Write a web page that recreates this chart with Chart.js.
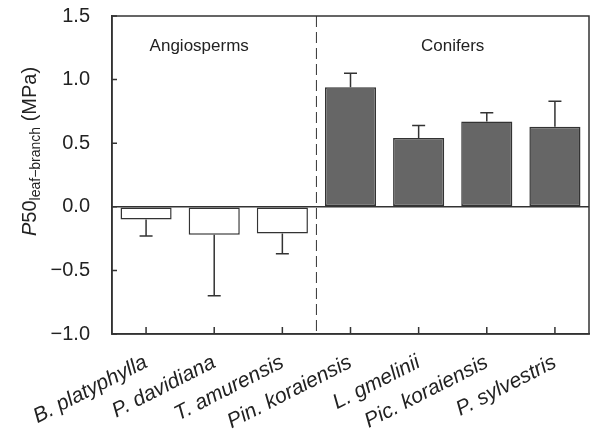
<!DOCTYPE html>
<html>
<head>
<meta charset="utf-8">
<script src="https://cdn.jsdelivr.net/npm/chart.js@4/dist/chart.umd.min.js"></script>
<style>
  html, body { margin: 0; padding: 0; background: #fff; }
  #wrap { width: 591px; height: 435px; }
</style>
</head>
<body>
<div id="wrap"><canvas id="chart" width="591" height="435"></canvas></div>
<script>
// data
const species = ['B. platyphylla', 'P. davidiana', 'T. amurensis', 'Pin. koraiensis', 'L. gmelinii', 'Pic. koraiensis', 'P. sylvestris'];
const groups = ['Angiosperms', 'Angiosperms', 'Angiosperms', 'Conifers', 'Conifers', 'Conifers', 'Conifers'];
const p50Diff = [-0.10, -0.22, -0.21, 0.94, 0.54, 0.67, 0.63];
const p50Err = [0.13, 0.48, 0.16, 0.11, 0.10, 0.07, 0.20];
const yTicks = [-1.0, -0.5, 0.0, 0.5, 1.0, 1.5];

const ink = '#333333';
const fills = groups.map(g => g === 'Conifers' ? '#666666' : '#ffffff');

// frame, inward ticks, divider, error bars, group names, y title
const extras = {
  id: 'extras',
  afterDatasetsDraw(chart) {
    const { ctx, chartArea: a, scales: { x, y } } = chart;
    ctx.save();
    ctx.strokeStyle = ink;
    ctx.lineWidth = 1.5;

    // error bars (one-sided, away from zero)
    const meta = chart.getDatasetMeta(0);
    p50Diff.forEach((v, i) => {
      const px = meta.data[i].x;
      const y0 = y.getPixelForValue(v);
      const y1 = y.getPixelForValue(v + Math.sign(v) * p50Err[i]);
      ctx.beginPath();
      ctx.moveTo(px, y0); ctx.lineTo(px, y1);
      ctx.moveTo(px - 6.5, y1); ctx.lineTo(px + 6.5, y1);
      ctx.stroke();
    });

    // frame
    ctx.strokeRect(a.left, a.top, a.right - a.left, a.bottom - a.top);

    // inward ticks
    ctx.beginPath();
    yTicks.forEach(t => {
      const py = y.getPixelForValue(t);
      ctx.moveTo(a.left, py); ctx.lineTo(a.left + 5, py);
    });
    species.forEach((s, i) => {
      const px = x.getPixelForValue(i);
      ctx.moveTo(px, a.bottom); ctx.lineTo(px, a.bottom - 7);
    });
    ctx.stroke();

    // dashed divider between the groups
    const split = groups.indexOf('Conifers');
    const dx = (x.getPixelForValue(split - 1) + x.getPixelForValue(split)) / 2;
    ctx.setLineDash([11, 5]);
    ctx.lineWidth = 1;
    ctx.beginPath();
    ctx.moveTo(dx, a.top); ctx.lineTo(dx, a.bottom);
    ctx.stroke();
    ctx.setLineDash([]);

    // group names
    ctx.fillStyle = '#222';
    ctx.font = '17px "Liberation Sans", Arial, sans-serif';
    ctx.textAlign = 'center';
    ctx.textBaseline = 'alphabetic';
    ctx.fillText('Angiosperms', (a.left + dx) / 2 - 15, 51);
    ctx.fillText('Conifers', (dx + a.right) / 2, 51);

    // y title with subscript
    ctx.translate(36, 236);
    ctx.rotate(-Math.PI / 2);
    ctx.textAlign = 'left';
    let cx = 0;
    ctx.font = 'italic 20px "Liberation Sans", Arial, sans-serif';
    ctx.fillText('P', cx, 0); cx += ctx.measureText('P').width;
    ctx.font = '20px "Liberation Sans", Arial, sans-serif';
    ctx.fillText('50', cx, 0); cx += ctx.measureText('50').width;
    ctx.font = '14px "Liberation Sans", Arial, sans-serif';
    ctx.fillText('leaf\u2212branch', cx, 4); cx += ctx.measureText('leaf\u2212branch').width;
    ctx.font = '20px "Liberation Sans", Arial, sans-serif';
    ctx.fillText(' (MPa)', cx, 0);
    ctx.restore();
  }
};

new Chart(document.getElementById('chart'), {
  type: 'bar',
  data: {
    labels: species,
    datasets: [{
      data: p50Diff,
      backgroundColor: fills,
      borderColor: ink,
      borderWidth: 1.5,
      borderSkipped: false,
      barPercentage: 0.75,
      categoryPercentage: 1.0
    }]
  },
  options: {
    responsive: false,
    animation: false,
    layout: { padding: { top: 16, right: 2, left: 0, bottom: 0 } },
    plugins: { legend: { display: false }, tooltip: { enabled: false } },
    scales: {
      x: {
        grid: { display: false },
        border: { display: true, color: ink, width: 1.5 },
        ticks: {
          autoSkip: false,
          minRotation: 27,
          maxRotation: 27,
          padding: 8,
          color: '#222',
          font: { family: '"Liberation Sans", Arial, sans-serif', size: 21, style: 'italic' }
        },
        afterFit(scale) { scale.height = 101; scale.paddingLeft = 0; scale.paddingRight = 0; }
      },
      y: {
        min: -1.0,
        max: 1.5,
        afterBuildTicks(scale) { scale.ticks = yTicks.map(v => ({ value: v })); },
        grid: {
          drawTicks: false,
          lineWidth: 1.5,
          color: c => (c.tick && c.tick.value === 0 ? ink : 'rgba(0,0,0,0)')
        },
        border: { display: true, color: ink, width: 1.5 },
        ticks: {
          padding: 22,
          color: '#222',
          font: { family: '"Liberation Sans", Arial, sans-serif', size: 20 },
          callback: v => (v < 0 ? '\u2212' : '') + Math.abs(v).toFixed(1)
        },
        afterFit(scale) { scale.width = 112; scale.paddingTop = 0; scale.paddingBottom = 0; }
      }
    }
  },
  plugins: [extras]
});
</script>
</body>
</html>
